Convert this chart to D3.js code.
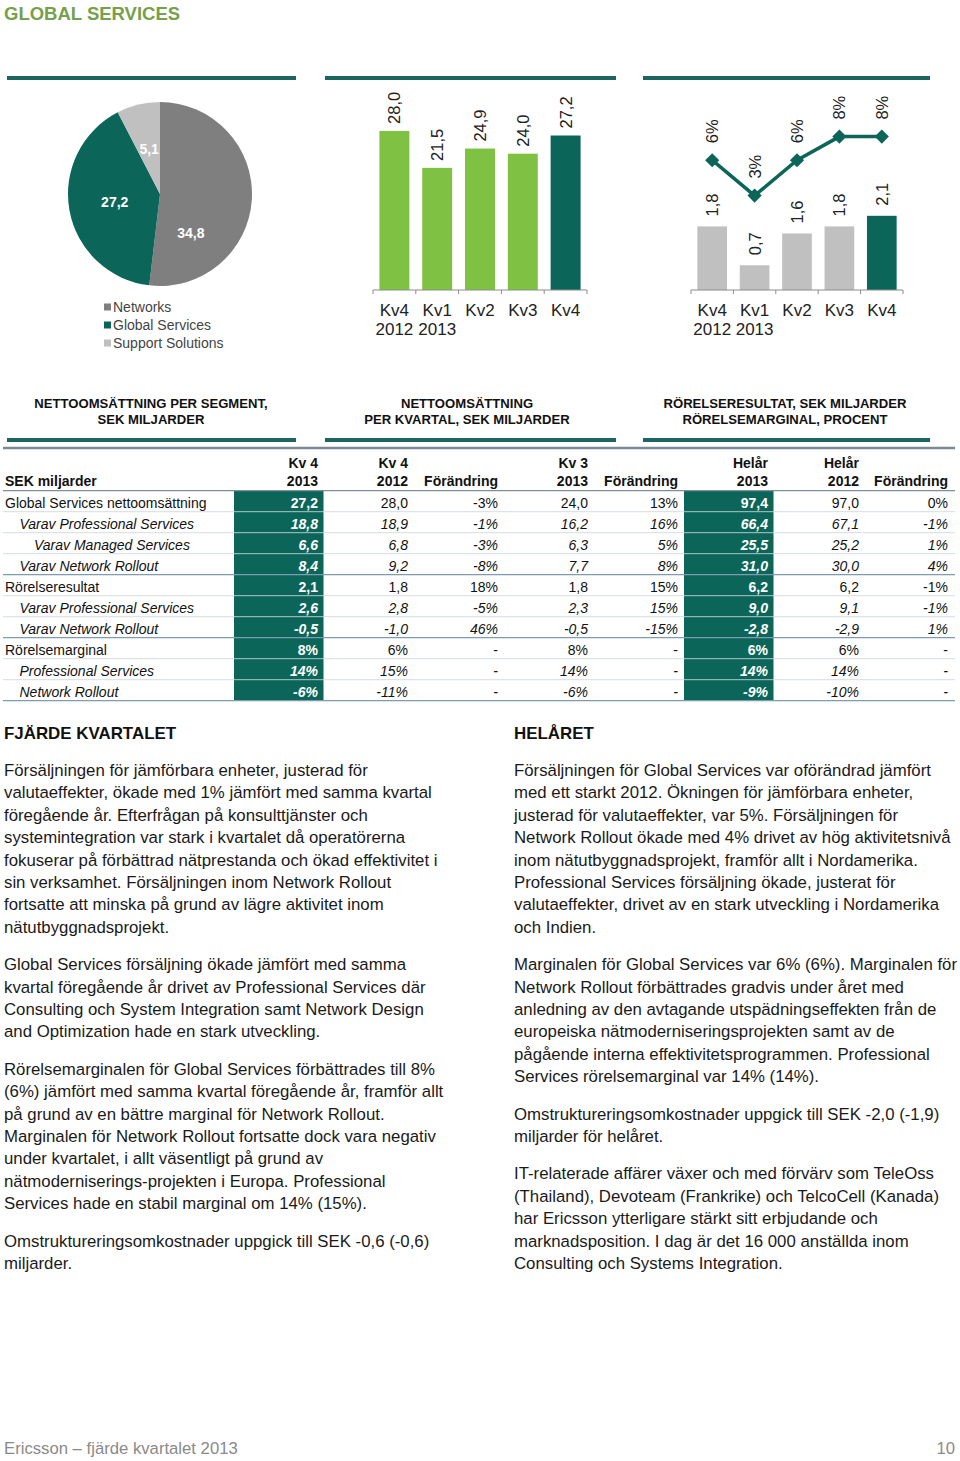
<!DOCTYPE html>
<html><head><meta charset="utf-8">
<script src="https://cdn.jsdelivr.net/npm/d3@7"></script>
<style>
html,body{margin:0;padding:0;background:#fff;}
svg{display:block;font-family:"Liberation Sans",Arial,Helvetica,sans-serif;}
</style></head>
<body>
<script>
// ---------- DATA ----------
const segments = ["Networks", "Global Services", "Support Solutions"];
const segmentValues = [34.8, 27.2, 5.1];
const segmentLabels = ["34,8", "27,2", "5,1"];

const quarters = ["Kv4", "Kv1", "Kv2", "Kv3", "Kv4"];
const quarterYears = ["2012", "2013", "", "", ""];
const netSales = [28.0, 21.5, 24.9, 24.0, 27.2];
const netSalesLabels = ["28,0", "21,5", "24,9", "24,0", "27,2"];
const opIncome = [1.8, 0.7, 1.6, 1.8, 2.1];
const opIncomeLabels = ["1,8", "0,7", "1,6", "1,8", "2,1"];
const opMargin = [6, 3, 6, 8, 8];
const opMarginLabels = ["6%", "3%", "6%", "8%", "8%"];

const captions = [
  ["NETTOOMSÄTTNING PER SEGMENT,", "SEK MILJARDER"],
  ["NETTOOMSÄTTNING", "PER KVARTAL, SEK MILJARDER"],
  ["RÖRELSERESULTAT, SEK MILJARDER", "RÖRELSEMARGINAL, PROCENT"]
];

const tableHeadTop = ["Kv 4", "Kv 4", "", "Kv 3", "", "Helår", "Helår", ""];
const tableHeadBottom = ["2013", "2012", "Förändring", "2013", "Förändring", "2013", "2012", "Förändring"];
const rowLabels = ["Global Services nettoomsättning", "Varav Professional Services", "Varav Managed Services",
  "Varav Network Rollout", "Rörelseresultat", "Varav Professional Services", "Varav Network Rollout",
  "Rörelsemarginal", "Professional Services", "Network Rollout"];
const rowIndent = [0, 1, 2, 1, 0, 1, 1, 0, 1, 1];
const rowItalic = [false, true, true, true, false, true, true, false, true, true];
const colKv4_2013 = ["27,2", "18,8", "6,6", "8,4", "2,1", "2,6", "-0,5", "8%", "14%", "-6%"];
const colKv4_2012 = ["28,0", "18,9", "6,8", "9,2", "1,8", "2,8", "-1,0", "6%", "15%", "-11%"];
const colChg1 = ["-3%", "-1%", "-3%", "-8%", "18%", "-5%", "46%", "-", "-", "-"];
const colKv3_2013 = ["24,0", "16,2", "6,3", "7,7", "1,8", "2,3", "-0,5", "8%", "14%", "-6%"];
const colChg2 = ["13%", "16%", "5%", "8%", "15%", "15%", "-15%", "-", "-", "-"];
const colFy2013 = ["97,4", "66,4", "25,5", "31,0", "6,2", "9,0", "-2,8", "6%", "14%", "-9%"];
const colFy2012 = ["97,0", "67,1", "25,2", "30,0", "6,2", "9,1", "-2,9", "6%", "14%", "-10%"];
const colChg3 = ["0%", "-1%", "1%", "4%", "-1%", "-1%", "1%", "-", "-", "-"];

const leftHeading = "FJÄRDE KVARTALET";
const leftParas = [
  ["Försäljningen för jämförbara enheter, justerad för",
   "valutaeffekter, ökade med 1% jämfört med samma kvartal",
   "föregående år. Efterfrågan på konsulttjänster och",
   "systemintegration var stark i kvartalet då operatörerna",
   "fokuserar på förbättrad nätprestanda och ökad effektivitet i",
   "sin verksamhet. Försäljningen inom Network Rollout",
   "fortsatte att minska på grund av lägre aktivitet inom",
   "nätutbyggnadsprojekt."],
  ["Global Services försäljning ökade jämfört med samma",
   "kvartal föregående år drivet av Professional Services där",
   "Consulting och System Integration samt Network Design",
   "and Optimization hade en stark utveckling."],
  ["Rörelsemarginalen för Global Services förbättrades till 8%",
   "(6%) jämfört med samma kvartal föregående år, framför allt",
   "på grund av en bättre marginal för Network Rollout.",
   "Marginalen för Network Rollout fortsatte dock vara negativ",
   "under kvartalet, i allt väsentligt på grund av",
   "nätmoderniserings-projekten i Europa. Professional",
   "Services hade en stabil marginal om 14% (15%)."],
  ["Omstruktureringsomkostnader uppgick till SEK -0,6 (-0,6)",
   "miljarder."]
];
const rightHeading = "HELÅRET";
const rightParas = [
  ["Försäljningen för Global Services var oförändrad jämfört",
   "med ett starkt 2012. Ökningen för jämförbara enheter,",
   "justerad för valutaeffekter, var 5%. Försäljningen för",
   "Network Rollout ökade med 4% drivet av hög aktivitetsnivå",
   "inom nätutbyggnadsprojekt, framför allt i Nordamerika.",
   "Professional Services försäljning ökade, justerat för",
   "valutaeffekter, drivet av en stark utveckling i Nordamerika",
   "och Indien."],
  ["Marginalen för Global Services var 6% (6%). Marginalen för",
   "Network Rollout förbättrades gradvis under året med",
   "anledning av den avtagande utspädningseffekten från de",
   "europeiska nätmoderniseringsprojekten samt av de",
   "pågående interna effektivitetsprogrammen. Professional",
   "Services rörelsemarginal var 14% (14%)."],
  ["Omstruktureringsomkostnader uppgick till SEK -2,0 (-1,9)",
   "miljarder för helåret."],
  ["IT-relaterade affärer växer och med förvärv som TeleOss",
   "(Thailand), Devoteam (Frankrike) och TelcoCell (Kanada)",
   "har Ericsson ytterligare stärkt sitt erbjudande och",
   "marknadsposition. I dag är det 16 000 anställda inom",
   "Consulting och Systems Integration."]
];
const footerLeft = "Ericsson – fjärde kvartalet 2013";
const footerRight = "10";

// ---------- STYLE ----------
const TEAL = "#0b6659";
const GREEN = "#7fc143";
const GRAY_DARK = "#7f7f7f";
const GRAY_LIGHT = "#c0c0c0";
const segColors = [GRAY_DARK, TEAL, GRAY_LIGHT];

const W = 960, H = 1461;
const svg = d3.select("body").append("svg").attr("width", W).attr("height", H);

// Title
svg.append("text").attr("x", 4).attr("y", 20).attr("font-size", 18.5).attr("font-weight", "bold")
  .attr("fill", "#76a04b").text("GLOBAL SERVICES");

// Panel rules
const panels = [[7, 296], [325, 616], [643, 930]];
panels.forEach(p => {
  [78, 440].forEach(y => svg.append("line").attr("x1", p[0]).attr("x2", p[1]).attr("y1", y).attr("y2", y)
    .attr("stroke", "#1d6560").attr("stroke-width", 4));
});

// ---------- PIE ----------
const pieG = svg.append("g").attr("transform", "translate(160,194)");
const pie = d3.pie().sort(null).value(d => d)(segmentValues);
const arc = d3.arc().innerRadius(0).outerRadius(92);
pieG.selectAll("path").data(pie).join("path").attr("d", arc).attr("fill", (d, i) => segColors[i]);
pieG.selectAll("text.pl").data(pie).join("text").attr("class", "pl")
  .attr("transform", (d, i) => {
    const a = i === 0 ? d.startAngle + (d.endAngle - d.startAngle) * 0.76 : (d.startAngle + d.endAngle) / 2;
    const r = i === 0 ? 50 : 46;
    return `translate(${r * Math.sin(a)},${-r * Math.cos(a)})`;
  })
  .attr("text-anchor", "middle").attr("dy", "0.36em").attr("font-size", 14).attr("font-weight", "bold")
  .attr("fill", "#fff").text((d, i) => segmentLabels[i]);

const legG = svg.append("g");
segments.forEach((s, i) => {
  const y = 307 + i * 18;
  legG.append("rect").attr("x", 104).attr("y", y - 3.5).attr("width", 7).attr("height", 7).attr("fill", segColors[i]);
  legG.append("text").attr("x", 113).attr("y", y).attr("dy", "0.36em").attr("font-size", 14)
    .attr("fill", "#444").text(s);
});

// ---------- BAR CHART HELPER ----------
function drawAxis(x, y0) {
  const [a, b] = x.range();
  const g = svg.append("g");
  g.append("line").attr("x1", a).attr("x2", b).attr("y1", y0).attr("y2", y0).attr("stroke", "#8c8c8c").attr("stroke-width", 1);
  d3.range(quarters.length + 1).forEach(i => {
    const tx = a + i * x.step();
    g.append("line").attr("x1", tx).attr("x2", tx).attr("y1", y0).attr("y2", y0 + 4).attr("stroke", "#8c8c8c");
  });
  quarters.forEach((q, i) => {
    const cx = x(i) + x.bandwidth() / 2;
    g.append("text").attr("x", cx).attr("y", 316).attr("text-anchor", "middle").attr("font-size", 17).attr("fill", "#222").text(q);
    if (quarterYears[i]) g.append("text").attr("x", cx).attr("y", 335).attr("text-anchor", "middle").attr("font-size", 17).attr("fill", "#222").text(quarterYears[i]);
  });
}
function vlabel(g, cx, ybase, txt) {
  g.append("text").attr("transform", `translate(${cx},${ybase}) rotate(-90)`).attr("dy", "0.36em")
    .attr("font-size", 16.5).attr("fill", "#222").text(txt);
}

// Chart 1
const x1 = d3.scaleBand().domain(d3.range(netSales.length)).range([373, 587]).paddingInner(0.3).paddingOuter(0.15);
const y1 = d3.scaleLinear().domain([0, 30]).range([290, 119.6]);
const g1 = svg.append("g");
g1.selectAll("rect").data(netSales).join("rect")
  .attr("x", (d, i) => x1(i)).attr("width", x1.bandwidth())
  .attr("y", d => y1(d)).attr("height", d => y1(0) - y1(d))
  .attr("fill", (d, i) => i === netSales.length - 1 ? TEAL : GREEN);
netSales.forEach((v, i) => vlabel(g1, x1(i) + x1.bandwidth() / 2, y1(v) - 7, netSalesLabels[i]));
drawAxis(x1, 290);

// Chart 2
const x2 = d3.scaleBand().domain(d3.range(opIncome.length)).range([691, 903]).paddingInner(0.3).paddingOuter(0.15);
const y2 = d3.scaleLinear().domain([0, 3]).range([290, 184]);
const y2m = d3.scaleLinear().domain([0, 10]).range([231, 113]);
const g2 = svg.append("g");
g2.selectAll("rect").data(opIncome).join("rect")
  .attr("x", (d, i) => x2(i)).attr("width", x2.bandwidth())
  .attr("y", d => y2(d)).attr("height", d => y2(0) - y2(d))
  .attr("fill", (d, i) => i === opIncome.length - 1 ? TEAL : GRAY_LIGHT);
opIncome.forEach((v, i) => vlabel(g2, x2(i) + x2.bandwidth() / 2, y2(v) - 10, opIncomeLabels[i]));
const line = d3.line().x((d, i) => x2(i) + x2.bandwidth() / 2).y(d => y2m(d));
g2.append("path").datum(opMargin).attr("d", line).attr("fill", "none").attr("stroke", TEAL).attr("stroke-width", 3.5);
const sym = d3.symbol().type(d3.symbolSquare).size(100);
opMargin.forEach((v, i) => {
  const cx = x2(i) + x2.bandwidth() / 2;
  g2.append("path").attr("d", sym()).attr("transform", `translate(${cx},${y2m(v)}) rotate(45)`).attr("fill", TEAL);
  vlabel(g2, cx, y2m(v) - 17, opMarginLabels[i]);
});
drawAxis(x2, 290);

// Captions
const capCx = [151, 467, 785];
captions.forEach((c, i) => c.forEach((t, j) => {
  svg.append("text").attr("x", capCx[i]).attr("y", 408 + j * 15.5).attr("text-anchor", "middle")
    .attr("font-size", 13.1).attr("font-weight", "bold").attr("fill", "#111").text(t);
}));

// ---------- TABLE ----------
const tbl = svg.append("g").attr("font-size", 14);
const cols = [colKv4_2013, colKv4_2012, colChg1, colKv3_2013, colChg2, colFy2013, colFy2012, colChg3];
const colRight = [318, 408, 498, 588, 678, 768, 859, 948];
const highlight = [0, 5];
const hlBox = [[234, 323.5], [684, 773.5]];
const rowTop = 490.7, rowH = 21;
const rowY = d3.scaleLinear().domain([0, 1]).range([rowTop, rowTop + rowH]);

tbl.append("line").attr("x1", 3).attr("x2", 955).attr("y1", 448).attr("y2", 448).attr("stroke", "#7b8a93").attr("stroke-width", 2.5);
highlight.forEach((c, k) => {
  tbl.append("rect").attr("x", hlBox[k][0]).attr("width", hlBox[k][1] - hlBox[k][0])
    .attr("y", rowY(0)).attr("height", rowY(rowLabels.length) - rowY(0)).attr("fill", TEAL);
});
// header
tbl.append("text").attr("x", 5).attr("y", 486).attr("font-weight", "bold").attr("fill", "#111").text("SEK miljarder");
cols.forEach((c, j) => {
  if (tableHeadTop[j]) tbl.append("text").attr("x", colRight[j]).attr("y", 468).attr("text-anchor", "end").attr("font-weight", "bold").attr("fill", "#111").text(tableHeadTop[j]);
  tbl.append("text").attr("x", colRight[j]).attr("y", 486).attr("text-anchor", "end").attr("font-weight", "bold").attr("fill", "#111").text(tableHeadBottom[j]);
});
// row lines
const groupEnds = [3, 6, 9];
rowLabels.forEach((r, i) => {
  const yb = rowY(i + 1);
  const major = groupEnds.includes(i);
  tbl.append("line").attr("x1", 3).attr("x2", 955).attr("y1", yb).attr("y2", yb)
    .attr("stroke", major ? "#7f9bb0" : "#cfd8de").attr("stroke-width", major ? 1.3 : 1).attr("opacity", major ? 1 : 0.85);
});
tbl.append("line").attr("x1", 3).attr("x2", 955).attr("y1", rowTop).attr("y2", rowTop).attr("stroke", "#7f8f99").attr("stroke-width", 1.3);
// rows
rowLabels.forEach((r, i) => {
  const yb = rowY(i) + 17;
  tbl.append("text").attr("x", 5 + rowIndent[i] * 14.5).attr("y", yb).attr("font-style", rowItalic[i] ? "italic" : "normal")
    .attr("fill", "#111").text(r);
  cols.forEach((c, j) => {
    const hl = highlight.includes(j);
    tbl.append("text").attr("x", colRight[j]).attr("y", yb).attr("text-anchor", "end")
      .attr("font-style", rowItalic[i] ? "italic" : "normal").attr("font-weight", hl ? "bold" : "normal")
      .attr("fill", hl ? "#fff" : "#111").text(c[i]);
  });
});

// ---------- TEXT COLUMNS ----------
function textColumn(x, heading, paras) {
  const g = svg.append("g");
  g.append("text").attr("x", x).attr("y", 739).attr("font-size", 16.9).attr("font-weight", "bold").attr("fill", "#111").text(heading);
  let y = 776;
  paras.forEach(p => {
    p.forEach(l => {
      g.append("text").attr("x", x).attr("y", y).attr("font-size", 16.8).attr("fill", "#1a1a1a").text(l);
      y += 22.4;
    });
    y += 15;
  });
}
textColumn(4, leftHeading, leftParas);
textColumn(514, rightHeading, rightParas);

// Footer
svg.append("text").attr("x", 4).attr("y", 1454).attr("font-size", 16.7).attr("fill", "#8a8a8a").text(footerLeft);
svg.append("text").attr("x", 955).attr("y", 1454).attr("text-anchor", "end").attr("font-size", 16.7).attr("fill", "#8a8a8a").text(footerRight);
</script>
</body></html>
